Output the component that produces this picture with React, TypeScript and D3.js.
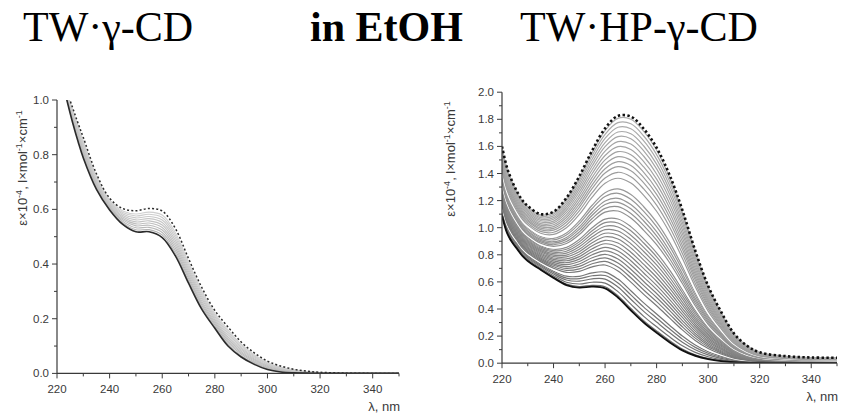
import React from "react";
import * as d3 from "d3";

// Wavelength grid (nm)
const wavelengths = [220, 222, 224, 226, 228, 230, 235, 240, 245, 250, 255, 260, 265, 270, 275, 280, 285, 290, 295, 300, 305, 310, 315, 320, 330, 340, 350];

// Left panel: TW·γ-CD (ε×10^-4)
const gcdStart = [1.15, 1.07, 0.99, 0.915, 0.848, 0.788, 0.673, 0.598, 0.545, 0.518, 0.518, 0.497, 0.43, 0.33, 0.235, 0.165, 0.10, 0.06, 0.033, 0.014, 0.005, 0.002, 0.001, 0, 0, 0, 0];
const gcdEnd = [1.14, 1.08, 1.025, 0.97, 0.915, 0.863, 0.73, 0.641, 0.603, 0.595, 0.603, 0.594, 0.53, 0.42, 0.315, 0.23, 0.17, 0.115, 0.075, 0.045, 0.027, 0.015, 0.008, 0.004, 0.001, 0, 0];
// intermediate spectra: read heights at the 255 nm shoulder
const gcdStepHeights = [0.526, 0.534, 0.542, 0.550, 0.558, 0.566, 0.574, 0.582, 0.590];

// Right panel: TW·HP-γ-CD
const hpStart = [1.09, 0.96, 0.89, 0.84, 0.79, 0.755, 0.69, 0.63, 0.577, 0.558, 0.565, 0.553, 0.485, 0.39, 0.30, 0.225, 0.155, 0.095, 0.055, 0.03, 0.015, 0.007, 0.004, 0.003, 0.002, 0.002, 0.002];
const hpEnd = [1.60, 1.44, 1.34, 1.26, 1.20, 1.16, 1.10, 1.118, 1.22, 1.38, 1.57, 1.733, 1.825, 1.82, 1.73, 1.59, 1.39, 1.13, 0.83, 0.57, 0.38, 0.22, 0.13, 0.08, 0.052, 0.042, 0.04];
// intermediate spectra: read heights at the ~265 nm band
const hpStepHeights = [0.498, 0.528, 0.562, 0.592, 0.621, 0.651, 0.680, 0.710, 0.740, 0.769, 0.799, 0.828, 0.858, 0.887, 0.917, 0.946, 0.976, 1.005, 1.035, 1.064, 1.094, 1.123, 1.155, 1.187, 1.217, 1.254, 1.286, 1.323, 1.365, 1.409, 1.451, 1.487, 1.524, 1.561, 1.598, 1.635, 1.672, 1.706, 1.741, 1.775, 1.807];
const hpWhiteHeights = [0.651, 1.094, 1.323];

const xTickValues = [220, 240, 260, 280, 300, 320, 340];
const leftYTickValues = [0.0, 0.2, 0.4, 0.6, 0.8, 1.0];
const rightYTickValues = [0.0, 0.2, 0.4, 0.6, 0.8, 1.0, 1.2, 1.4, 1.6, 1.8, 2.0];

type Pt = [number, number];

function between(a: number[], b: number[], idx: number, h: number): number[] {
  const t = (h - a[idx]) / (b[idx] - a[idx]);
  return a.map((v, i) => v + (b[i] - v) * t);
}

interface PanelProps {
  id: string;
  xr: [number, number];
  yr: [number, number];
  yMax: number;
  yTicks: number[];
  yMinorStep: number;
  start: number[];
  end: number[];
  steps: number[];
  refIdx: number;
  whites: number[];
  colorFrom: string;
  colorTo: string;
  stepWidth: number;
  startColor: string;
  startWidth: number;
  endColor: string;
  endWidth: number;
  endDash: string;
  ylabX: number;
  ylabY: number;
  xlabY: number;
}

function Panel(p: PanelProps) {
  const x = d3.scaleLinear().domain([220, 350]).range(p.xr);
  const y = d3.scaleLinear().domain([0, p.yMax]).range(p.yr);
  const line = d3
    .line<Pt>()
    .x((d) => x(d[0]))
    .y((d) => y(d[1]))
    .curve(d3.curveCatmullRom.alpha(0.5));
  const toPts = (arr: number[]): Pt[] => arr.map((v, i) => [wavelengths[i], v] as Pt);
  const n = p.steps.length;
  const col = d3.interpolateRgb(p.colorFrom, p.colorTo);
  const minorX = d3.range(230, 351, 20);
  const minorY = d3.range(p.yMinorStep, p.yMax, p.yMinorStep * 2);
  const axisColor = "#3a3a3a";
  const textColor = "#3a3a3a";
  const x0 = p.xr[0];
  const y0 = p.yr[0];
  return (
    <g>
      <defs>
        <clipPath id={p.id}>
          <rect x={p.xr[0]} y={p.yr[1]} width={p.xr[1] - p.xr[0]} height={p.yr[0] - p.yr[1] - 0.5} />
        </clipPath>
      </defs>
      <g clipPath={`url(#${p.id})`} fill="none">
        {p.steps.map((h, i) => (
          <path
            key={i}
            d={line(toPts(between(p.start, p.end, p.refIdx, h))) || ""}
            stroke={p.whites.includes(h) ? "#ffffff" : col(n > 1 ? i / (n - 1) : 0)}
            strokeWidth={p.whites.includes(h) ? 1.6 : p.stepWidth}
          />
        ))}
        <path d={line(toPts(p.start)) || ""} stroke={p.startColor} strokeWidth={p.startWidth} />
        <path d={line(toPts(p.end)) || ""} stroke={p.endColor} strokeWidth={p.endWidth} strokeDasharray={p.endDash} />
      </g>
      {/* axes */}
      <line x1={x0} x2={p.xr[1]} y1={y0} y2={y0} stroke={axisColor} strokeWidth={1.2} />
      <line x1={x0} x2={x0} y1={y0} y2={p.yr[1]} stroke={axisColor} strokeWidth={1.2} />
      {xTickValues.map((t) => (
        <g key={"xt" + t}>
          <line x1={x(t)} x2={x(t)} y1={y0} y2={y0 + 5} stroke={axisColor} strokeWidth={1} />
          <text x={x(t)} y={y0 + 19.5} textAnchor="middle" fontSize={11.5} fill={textColor} fontFamily="Liberation Sans, Arial, sans-serif">
            {t}
          </text>
        </g>
      ))}
      {minorX.map((t) => (
        <line key={"xm" + t} x1={x(t)} x2={x(t)} y1={y0} y2={y0 + 3} stroke={axisColor} strokeWidth={1} />
      ))}
      {p.yTicks.map((t) => (
        <g key={"yt" + t}>
          <line x1={x0 - 5} x2={x0} y1={y(t)} y2={y(t)} stroke={axisColor} strokeWidth={1} />
          <text x={x0 - 8} y={y(t)} dy="0.35em" textAnchor="end" fontSize={11.5} fill={textColor} fontFamily="Liberation Sans, Arial, sans-serif">
            {t.toFixed(1)}
          </text>
        </g>
      ))}
      {minorY.map((t) => (
        <line key={"ym" + t} x1={x0 - 3} x2={x0} y1={y(t)} y2={y(t)} stroke={axisColor} strokeWidth={1} />
      ))}
      <text x={p.xr[1] + 1} y={p.xlabY} textAnchor="end" fontSize={13} fill={textColor} fontFamily="Liberation Sans, Arial, sans-serif">
        λ, nm
      </text>
      <text
        transform={`translate(${p.ylabX},${p.ylabY}) rotate(-90)`}
        textAnchor="middle"
        fontSize={13}
        fill={textColor}
        fontFamily="Liberation Sans, Arial, sans-serif"
      >
        <tspan>ε×10</tspan>
        <tspan fontSize={9} dy={-5}>-4</tspan>
        <tspan dy={5}>, l×mol</tspan>
        <tspan fontSize={9} dy={-5}>-1</tspan>
        <tspan dy={5}>×cm</tspan>
        <tspan fontSize={9} dy={-5}>-1</tspan>
      </text>
    </g>
  );
}

export default function App() {
  const serif = "Liberation Serif, Times New Roman, serif";
  return (
    <svg
      width={841}
      height={417}
      viewBox="0 0 841 417"
      style={{ position: "absolute", left: 0, top: 0, background: "#fff" }}
    >
      <rect x={0} y={0} width={841} height={417} fill="#fff" />
      <text x={23} y={41} fontFamily={serif} fontSize={42} fill="#000">
        TW·γ-CD
      </text>
      <text x={310} y={41} fontFamily={serif} fontSize={42} fontWeight="bold" fill="#000">
        in EtOH
      </text>
      <text x={520} y={41} fontFamily={serif} fontSize={42} fill="#000">
        TW·HP-γ-CD
      </text>
      <Panel
        id="clipL"
        xr={[57, 399]}
        yr={[373.4, 100]}
        yMax={1.0}
        yTicks={leftYTickValues}
        yMinorStep={0.1}
        start={gcdStart}
        end={gcdEnd}
        steps={gcdStepHeights}
        refIdx={10}
        whites={[]}
        colorFrom="#b4b4b4"
        colorTo="#d0d0d0"
        stepWidth={1.1}
        startColor="#2a2a2a"
        startWidth={1.6}
        endColor="#2a2a2a"
        endWidth={1.5}
        endDash="2,2.2"
        ylabX={27}
        ylabY={168}
        xlabY={411}
      />
      <Panel
        id="clipR"
        xr={[502, 837]}
        yr={[363.2, 92.2]}
        yMax={2.0}
        yTicks={rightYTickValues}
        yMinorStep={0.1}
        start={hpStart}
        end={hpEnd}
        steps={hpStepHeights}
        refIdx={12}
        whites={hpWhiteHeights}
        colorFrom="#707070"
        colorTo="#adadad"
        stepWidth={1.2}
        startColor="#111"
        startWidth={1.9}
        endColor="#111"
        endWidth={2.6}
        endDash="2.4,2.4"
        ylabX={455}
        ylabY={159}
        xlabY={401}
      />
    </svg>
  );
}
